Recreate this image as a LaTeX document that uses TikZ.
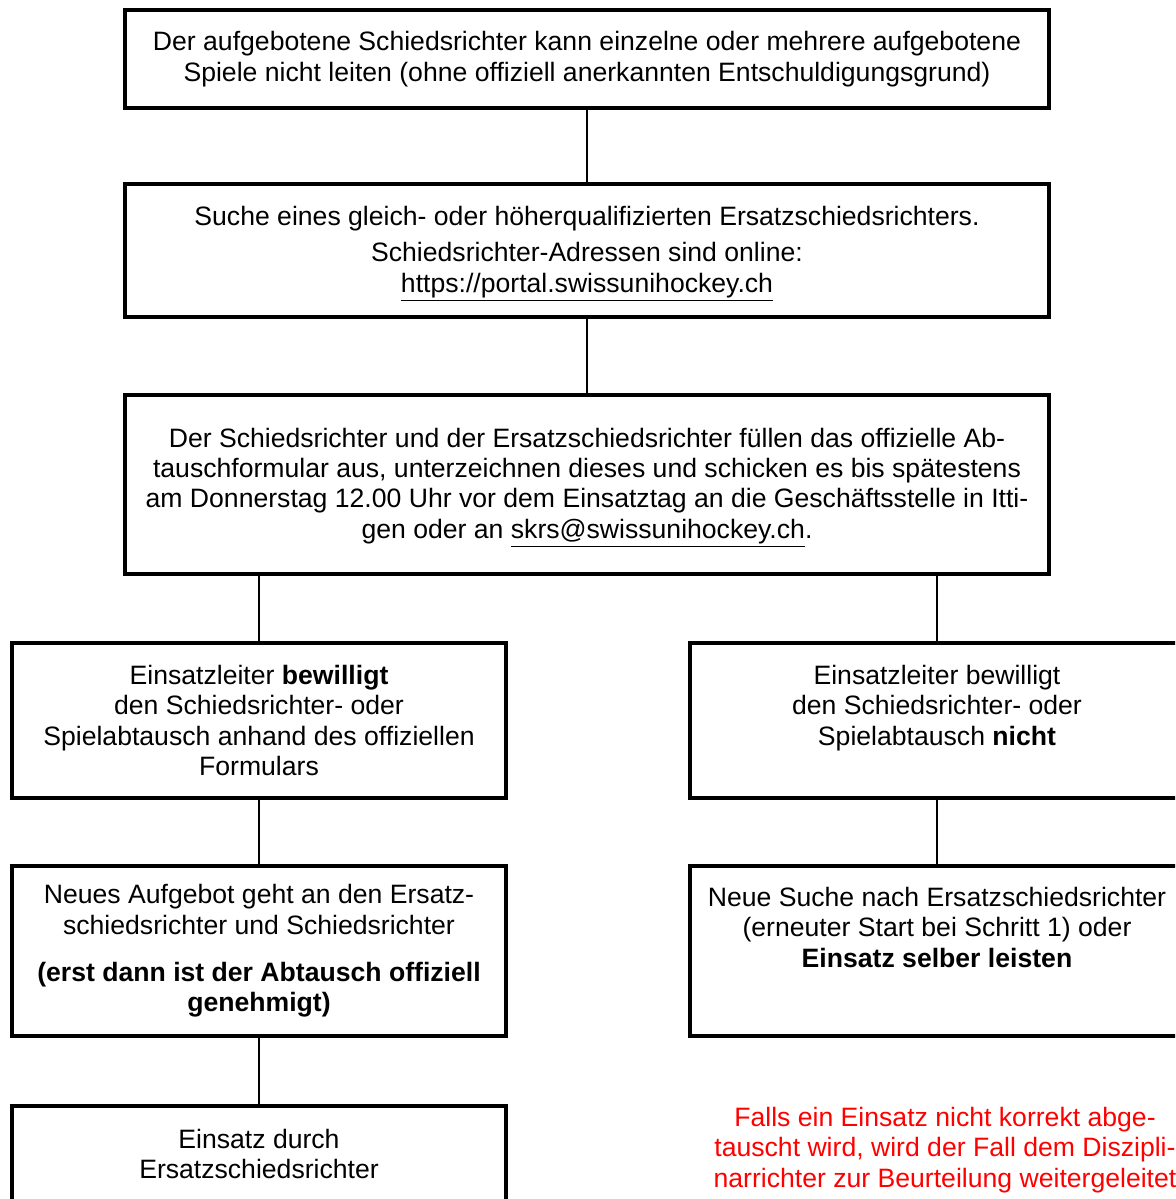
\documentclass[tikz,border=0pt]{standalone}
\usepackage{fontspec}
\setmainfont{Liberation Sans}
\usepackage{tikz}
\usetikzlibrary{positioning}
\definecolor{noteRed}{HTML}{FF0000}
\tikzset{
  stepbox/.style={draw, line width=2pt, minimum width=462pt, align=center,
    inner sep=3pt, font=\fontsize{13.3}{15.2}\selectfont},
  halfbox/.style={stepbox, minimum width=247pt},
  link/.style={line width=0.8pt},
  note/.style={text=noteRed, align=center, inner sep=0pt,
    font=\fontsize{13.3}{15.4}\selectfont},
}

\begin{document}
\begin{tikzpicture}
\useasboundingbox (0,0) rectangle (587.5pt,-599.5pt);
\clip (0,0) rectangle (587.5pt,-599.5pt);

\node[stepbox, minimum height=49pt, anchor=north] (fail) at (293.5pt,-4pt)
  {Der aufgebotene Schiedsrichter kann einzelne oder mehrere aufgebotene\\
   Spiele nicht leiten (ohne offiziell anerkannten Entschuldigungsgrund)};
\node[stepbox, minimum height=66.5pt, below=36pt of fail] (search)
  {\rule{0pt}{13pt}Suche eines gleich- oder höherqualifizierten Ersatzschiedsrichters.\\[3pt]
   Schiedsrichter-Adressen sind online:\\
   \underline{https://portal.swissunihockey.ch}};
\node[stepbox, minimum height=89.5pt, below=37pt of search] (form)
  {\rule{0pt}{13pt}Der Schiedsrichter und der Ersatzschiedsrichter füllen das offizielle Ab-\\
   tauschformular aus, unterzeichnen dieses und schicken es bis spätestens\\
   am Donnerstag 12.00 Uhr vor dem Einsatztag an die Geschäftsstelle in Itti-\\
   gen oder an \underline{skrs@swissunihockey.ch}.};

\node[halfbox, minimum height=77.5pt, below=32.5pt of form, xshift=-164pt] (grant)
  {Einsatzleiter \textbf{bewilligt}\\ den Schiedsrichter- oder\\
   Spielabtausch anhand des offiziellen\\ Formulars};
\node[halfbox, minimum height=77.5pt, below=32.5pt of form, xshift=175pt] (deny)
  {Einsatzleiter bewilligt\\ den Schiedsrichter- oder\\
   Spielabtausch \textbf{nicht}\\ \mbox{}};
\node[halfbox, minimum height=85pt, below=32pt of grant] (notice)
  {Neues Aufgebot geht an den Ersatz-\\ schiedsrichter und Schiedsrichter\\[8.5pt]
   \textbf{(erst dann ist der Abtausch offiziell}\\ \textbf{genehmigt)}};
\node[halfbox, minimum height=85pt, below=32pt of deny] (retry)
  {Neue Suche nach Ersatzschiedsrichter\\ (erneuter Start bei Schritt 1) oder\\
   \textbf{Einsatz selber leisten}\\[8.5pt] \mbox{}};
\node[halfbox, minimum height=48pt, below=33pt of notice] (stand)
  {Einsatz durch\\ Ersatzschiedsrichter};

\node[note] (warn) at ([xshift=4pt,yshift=-56pt]retry.south)
  {Falls ein Einsatz nicht korrekt abge-\\
   tauscht wird, wird der Fall dem Diszipli-\\
   narrichter zur Beurteilung weitergeleitet};

\draw[link] (fail) -- (search);
\draw[link] (search) -- (form);
\draw[link] (form.south -| grant) -- (grant);
\draw[link] (form.south -| deny) -- (deny);
\draw[link] (grant) -- (notice);
\draw[link] (deny) -- (retry);
\draw[link] (notice) -- (stand);
\end{tikzpicture}
\end{document}
